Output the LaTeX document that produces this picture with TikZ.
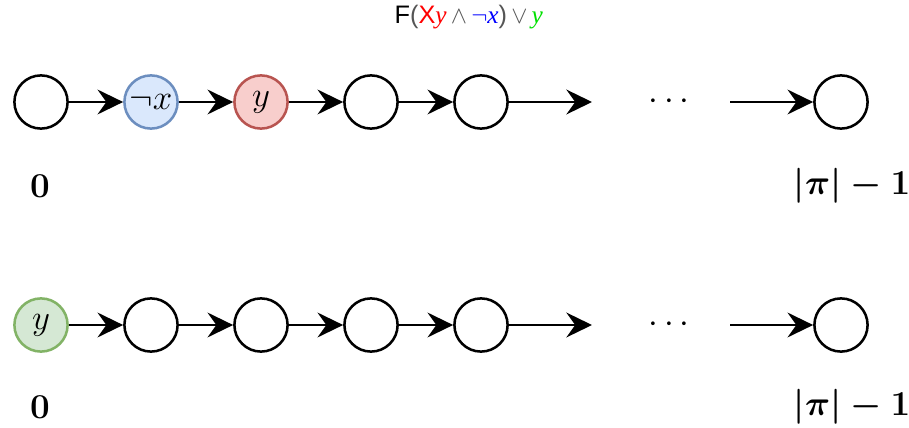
\documentclass[tikz,border=0pt]{standalone}
\usepackage{amsmath,amssymb}
\usepackage{fontspec}
\newfontfamily\titlefont{Liberation Sans}
\newfontfamily\titlevar{Liberation Serif}
\usetikzlibrary{arrows.meta, positioning}
\definecolor{negfill}{HTML}{DAE8FC}
\definecolor{negline}{HTML}{6C8EBF}
\definecolor{nxtfill}{HTML}{F8CECC}
\definecolor{nxtline}{HTML}{B85450}
\definecolor{nowfill}{HTML}{D5E8D4}
\definecolor{nowline}{HTML}{82B366}
\definecolor{opgray}{HTML}{555555}
\definecolor{tgreen}{HTML}{00E000}
\newcommand{\tvar}[1]{{\titlevar\itshape #1}}

\begin{document}
\begin{tikzpicture}[>={Stealth[length=6.4mm, width=6.2mm, inset=2.2mm]},
  state/.style={circle, draw=black, fill=white, line width=1.8pt, minimum size=1.33cm, inner sep=0pt, font=\fontsize{24}{28}\selectfont},
  edge/.style={->, line width=1.8pt},
  idx/.style={font=\fontsize{23}{28}\selectfont\boldmath}]

\useasboundingbox (0,0) rectangle (22.725,10.675);

% Formula
\node[font=\fontsize{18}{22}\selectfont\titlefont] (formula) at (11.72,10.25)
  {F\textcolor{opgray}{(}\textcolor{red}{X\tvar{y}}\,\textcolor{opgray}{$\wedge$}\,\textcolor{blue}{$\neg$\tvar{x}}\textcolor{opgray}{)}\,\textcolor{opgray}{$\vee$}\,\textcolor{tgreen}{\tvar{y}}};

% Path 1: y holds at position 2
\node[state] (a0) at (1.025,8.125) {};
\node[state, fill=negfill, draw=negline] (a1) at (3.775,8.125) {$\neg x$};
\node[state, fill=nxtfill, draw=nxtline] (a2) at (6.525,8.125) {$y$};
\node[state] (a3) at (9.275,8.125) {};
\node[state] (a4) at (12.025,8.125) {};
\coordinate (a5) at (14.8,8.125);
\node[font=\fontsize{24}{28}\selectfont] (adots) at (16.8,8.125) {$\cdots$};
\coordinate (a6) at (18.25,8.125);
\node[state] (an) at (21.025,8.125) {};

\draw[edge] (a0) -- (a1);
\draw[edge] (a1) -- (a2);
\draw[edge] (a2) -- (a3);
\draw[edge] (a3) -- (a4);
\draw[edge] (a4) -- (a5);
\draw[edge] (a6) -- (an);

\node[idx] (afirst) at (1.0,6.025) {$0$};
\node[idx] (alast) at (21.3,6.025) {$|\pi|-1$};

% Path 2: y holds at position 0
\node[state, fill=nowfill, draw=nowline] (b0) at (1.025,2.55) {$y$};
\node[state] (b1) at (3.775,2.55) {};
\node[state] (b2) at (6.525,2.55) {};
\node[state] (b3) at (9.275,2.55) {};
\node[state] (b4) at (12.025,2.55) {};
\coordinate (b5) at (14.8,2.55);
\node[font=\fontsize{24}{28}\selectfont] (bdots) at (16.8,2.55) {$\cdots$};
\coordinate (b6) at (18.25,2.55);
\node[state] (bn) at (21.025,2.55) {};

\draw[edge] (b0) -- (b1);
\draw[edge] (b1) -- (b2);
\draw[edge] (b2) -- (b3);
\draw[edge] (b3) -- (b4);
\draw[edge] (b4) -- (b5);
\draw[edge] (b6) -- (bn);

\node[idx] (bfirst) at (1.0,0.5) {$0$};
\node[idx] (blast) at (21.3,0.5) {$|\pi|-1$};

\end{tikzpicture}
\end{document}
